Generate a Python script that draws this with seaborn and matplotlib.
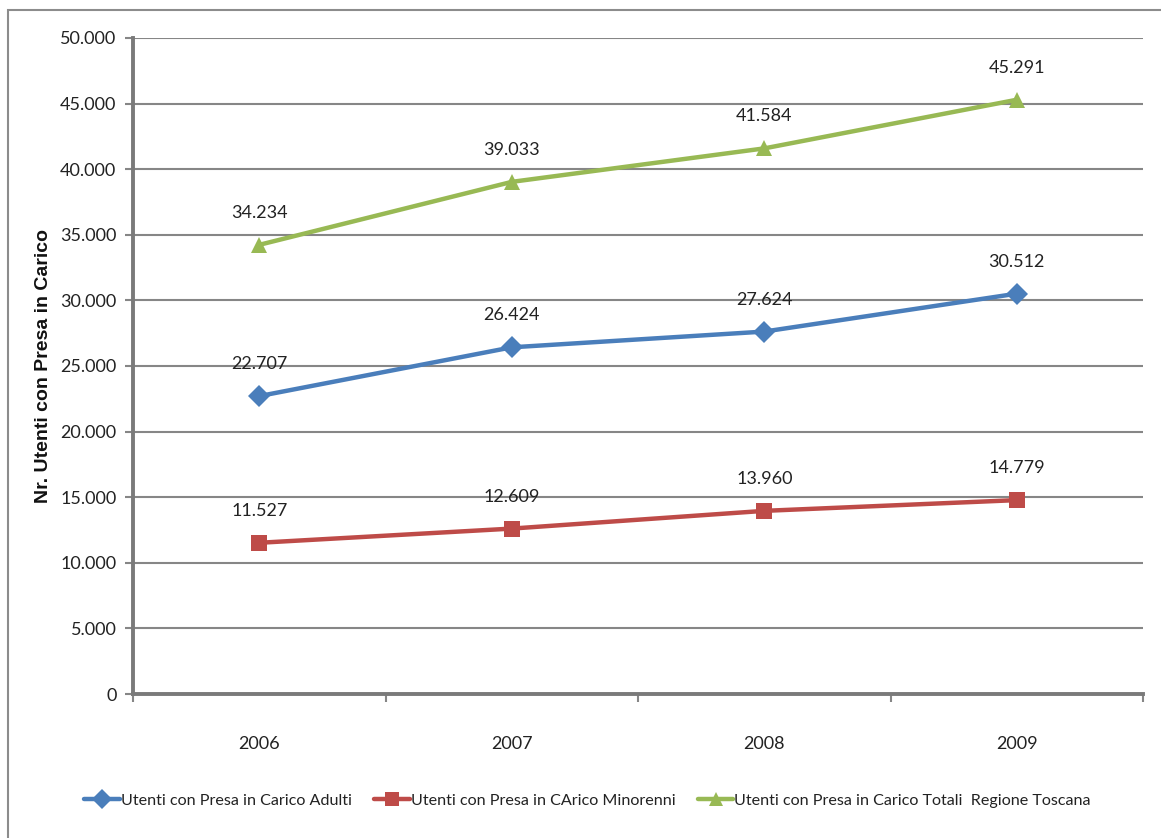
import pandas as pd
import seaborn as sns
import matplotlib.pyplot as plt
from matplotlib.patches import Rectangle
from matplotlib.lines import Line2D

# data
years = ['2006', '2007', '2008', '2009']
adulti = [22707, 26424, 27624, 30512]
minorenni = [11527, 12609, 13960, 14779]
totali = [34234, 39033, 41584, 45291]

series_names = ['Utenti con Presa in Carico Adulti',
                'Utenti con Presa in CArico Minorenni',
                'Utenti con Presa in Carico Totali  Regione Toscana']
series_values = [adulti, minorenni, totali]
colors = ['#4A7EBB', '#BE4B48', '#98B954']
markers = ['D', 's', '^']

rows = []
for name, vals in zip(series_names, series_values):
    for i, v in enumerate(vals):
        rows.append({'pos': i, 'year': years[i], 'value': v, 'serie': name})
df = pd.DataFrame(rows)

sns.set_theme(style="white")
plt.rcParams['font.family'] = ['Lato', 'DejaVu Sans']

fig = plt.figure(figsize=(11.61, 8.38), dpi=100)
ax = fig.add_axes([0.1146, 0.1718, 0.8699, 0.7829])

# outer chart frame
fig.patches.append(Rectangle((0.007, -0.01), 1.0, 0.998, transform=fig.transFigure,
                             fill=False, edgecolor='#8c8c8c', linewidth=1.5))

sns.lineplot(data=df, x='pos', y='value', hue='serie', style='serie',
             palette=dict(zip(series_names, colors)),
             markers=dict(zip(series_names, markers)),
             dashes=False, linewidth=3.2, markersize=11,
             markeredgewidth=0, ax=ax, legend=False)

# value labels
for vals in series_values:
    for i, v in enumerate(vals):
        label = f"{v:,}".replace(',', '.')
        ax.annotate(label, (i, v), xytext=(0, 23), textcoords='offset points',
                    ha='center', va='center', fontsize=13, color='#222222')

ax.set_xlim(-0.5, 3.5)
ax.set_ylim(0, 50000)
ax.set_xticks([0, 1, 2, 3])
ax.set_xticklabels(years)
ax.set_xticks([-0.5, 0.5, 1.5, 2.5, 3.5], minor=True)
ax.set_yticks(range(0, 50001, 5000))
ax.set_yticklabels([f"{t:,}".replace(',', '.') for t in range(0, 50001, 5000)])

ax.yaxis.grid(True, color='#868686', linewidth=1.5)
ax.set_axisbelow(True)
for s in ['top', 'right']:
    ax.spines[s].set_visible(False)
for s in ['left', 'bottom']:
    ax.spines[s].set_color('#7a7a7a')
    ax.spines[s].set_linewidth(2.8)

ax.tick_params(axis='x', which='major', length=0, pad=30, labelsize=13, labelcolor='#222222')
ax.tick_params(axis='x', which='minor', length=6, width=1.5, color='#868686', bottom=True)
ax.tick_params(axis='y', length=6, width=1.5, color='#868686', left=True, labelsize=13,
               labelcolor='#222222', pad=6)

ax.set_xlabel('')
ax.set_ylabel('Nr. Utenti con Presa in Carico', fontsize=14, fontweight='bold',
              color='#111111', labelpad=6, family=['Liberation Sans', 'DejaVu Sans'])

handles = [Line2D([], [], color=c, marker=m, linewidth=3.2, markersize=10, markeredgewidth=0)
           for c, m in zip(colors, markers)]
ax.legend(handles, series_names, loc='center', bbox_to_anchor=(0.45, -0.163), ncol=3,
          frameon=False, fontsize=11.6, handlelength=2.2, handletextpad=0.05,
          columnspacing=1.4, labelcolor='#222222')

fig.savefig('out.png', dpi=100)
